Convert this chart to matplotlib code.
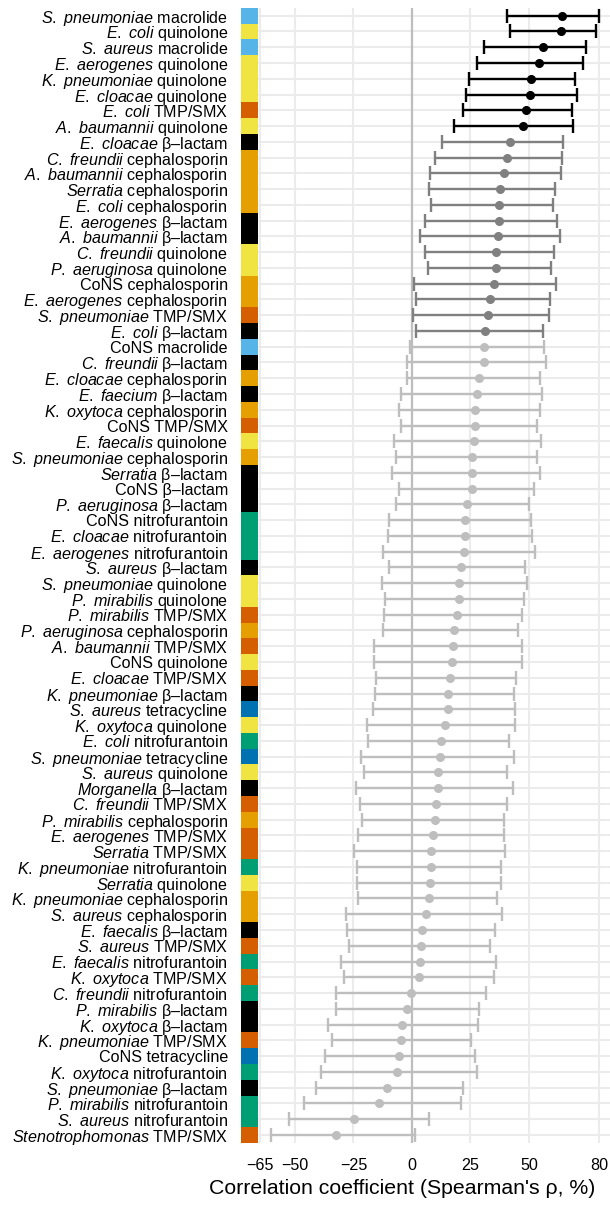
import numpy as np
import matplotlib as mpl
import matplotlib.pyplot as plt

mpl.rcParams['font.family'] = ['Liberation Sans', 'DejaVu Sans']
mpl.rcParams['mathtext.fontset'] = 'custom'
mpl.rcParams['mathtext.it'] = 'Liberation Sans:italic'
mpl.rcParams['mathtext.rm'] = 'Liberation Sans'

# organism / drug class of every row, top to bottom
species = ["S. pneumoniae", "E. coli", "S. aureus", "E. aerogenes", "K. pneumoniae", "E. cloacae",
           "E. coli", "A. baumannii", "E. cloacae", "C. freundii", "A. baumannii", "Serratia",
           "E. coli", "E. aerogenes", "A. baumannii", "C. freundii", "P. aeruginosa", "CoNS",
           "E. aerogenes", "S. pneumoniae", "E. coli", "CoNS", "C. freundii", "E. cloacae",
           "E. faecium", "K. oxytoca", "CoNS", "E. faecalis", "S. pneumoniae", "Serratia",
           "CoNS", "P. aeruginosa", "CoNS", "E. cloacae", "E. aerogenes", "S. aureus",
           "S. pneumoniae", "P. mirabilis", "P. mirabilis", "P. aeruginosa", "A. baumannii", "CoNS",
           "E. cloacae", "K. pneumoniae", "S. aureus", "K. oxytoca", "E. coli", "S. pneumoniae",
           "S. aureus", "Morganella", "C. freundii", "P. mirabilis", "E. aerogenes", "Serratia",
           "K. pneumoniae", "Serratia", "K. pneumoniae", "S. aureus", "E. faecalis", "S. aureus",
           "E. faecalis", "K. oxytoca", "C. freundii", "P. mirabilis", "K. oxytoca", "K. pneumoniae",
           "CoNS", "K. oxytoca", "S. pneumoniae", "P. mirabilis", "S. aureus", "Stenotrophomonas"]
drugs = ["macrolide", "quinolone", "macrolide", "quinolone", "quinolone", "quinolone",
         "TMP/SMX", "quinolone", "β-lactam", "cephalosporin", "cephalosporin", "cephalosporin",
         "cephalosporin", "β-lactam", "β-lactam", "quinolone", "quinolone", "cephalosporin",
         "cephalosporin", "TMP/SMX", "β-lactam", "macrolide", "β-lactam", "cephalosporin",
         "β-lactam", "cephalosporin", "TMP/SMX", "quinolone", "cephalosporin", "β-lactam",
         "β-lactam", "β-lactam", "nitrofurantoin", "nitrofurantoin", "nitrofurantoin", "β-lactam",
         "quinolone", "quinolone", "TMP/SMX", "cephalosporin", "TMP/SMX", "quinolone",
         "TMP/SMX", "β-lactam", "tetracycline", "quinolone", "nitrofurantoin", "tetracycline",
         "quinolone", "β-lactam", "TMP/SMX", "cephalosporin", "TMP/SMX", "TMP/SMX",
         "nitrofurantoin", "quinolone", "cephalosporin", "cephalosporin", "β-lactam", "TMP/SMX",
         "nitrofurantoin", "TMP/SMX", "nitrofurantoin", "β-lactam", "β-lactam", "TMP/SMX",
         "tetracycline", "nitrofurantoin", "β-lactam", "nitrofurantoin", "nitrofurantoin", "TMP/SMX"]

# Spearman rho (%) with interval
rho = [64.2, 63.6, 56.1, 54.3, 50.7, 50.4, 48.6, 47.3, 42.1, 40.4, 39.3, 37.6,
       37.2, 37.2, 36.8, 36.0, 35.8, 34.9, 33.2, 32.3, 31.3, 30.6, 30.6, 28.5,
       27.9, 27.1, 26.8, 26.5, 25.8, 25.8, 25.5, 23.5, 22.6, 22.6, 22.4, 20.9,
       20.2, 19.9, 19.4, 17.8, 17.4, 17.2, 16.1, 15.2, 15.2, 14.1, 12.5, 12.1,
       11.1, 11.0, 10.3, 10.0, 8.8, 8.3, 8.0, 7.8, 7.3, 5.8, 4.1, 3.7,
       3.3, 3.0, -0.6, -2.0, -4.3, -4.7, -5.6, -6.3, -10.7, -14.0, -24.9, -32.5]
lower = [40.4, 41.9, 30.8, 27.6, 24.5, 23.3, 21.9, 17.9, 12.7, 10.0, 7.8, 7.4,
         8.3, 5.7, 3.3, 5.4, 6.7, 1.0, 1.6, 0.3, 1.6, -1.0, -2.1, -1.9,
         -4.6, -5.4, -4.6, -7.8, -7.0, -8.4, -5.4, -6.7, -9.8, -10.4, -12.4, -9.8,
         -12.7, -11.3, -12.0, -12.5, -16.1, -16.1, -15.2, -15.7, -16.5, -19.1, -18.7, -21.7,
         -20.5, -23.9, -22.2, -21.2, -23.1, -24.9, -23.6, -23.6, -23.2, -28.3, -27.9, -26.9,
         -30.2, -29.2, -32.6, -32.3, -35.9, -34.2, -37.0, -39.0, -41.0, -46.0, -52.4, -60.0]
upper = [80.0, 78.6, 74.3, 72.9, 69.6, 70.3, 68.5, 68.9, 64.4, 63.9, 63.6, 61.1,
         60.3, 62.0, 63.1, 60.5, 59.4, 61.7, 58.8, 58.5, 56.0, 56.6, 57.4, 54.6,
         55.4, 54.6, 53.4, 55.1, 53.4, 54.6, 52.0, 50.0, 50.9, 51.1, 52.4, 48.3,
         49.3, 47.7, 47.2, 45.2, 47.2, 47.2, 44.4, 43.4, 44.2, 44.2, 41.5, 43.4,
         40.6, 43.2, 40.6, 39.2, 39.2, 39.7, 37.9, 37.9, 36.2, 38.6, 35.3, 33.5,
         35.9, 34.9, 31.6, 28.8, 28.1, 25.4, 27.1, 27.8, 21.8, 20.9, 7.5, 1.4]
# 2 = black, 1 = dark grey, 0 = light grey
level = [2, 2, 2, 2, 2, 2, 2, 2, 1, 1, 1, 1,
         1, 1, 1, 1, 1, 1, 1, 1, 1, 0, 0, 0,
         0, 0, 0, 0, 0, 0, 0, 0, 0, 0, 0, 0,
         0, 0, 0, 0, 0, 0, 0, 0, 0, 0, 0, 0,
         0, 0, 0, 0, 0, 0, 0, 0, 0, 0, 0, 0,
         0, 0, 0, 0, 0, 0, 0, 0, 0, 0, 0, 0]

drug_colors = {"macrolide": "#56B4E9", "quinolone": "#F0E442", "TMP/SMX": "#D55E00",
               "β-lactam": "#000000", "cephalosporin": "#E69F00",
               "nitrofurantoin": "#009E73", "tetracycline": "#0072B2"}
level_colors = {2: "black", 1: "#808080", 0: "#BEBEBE"}


def make_label(sp, dr):
    dr = dr.replace("-", "\u2013")
    if sp == "CoNS":
        return sp + " " + dr
    return r"$\mathit{" + sp.replace(" ", r"\ ") + "}$ " + dr


rho = np.array(rho)
lower = np.array(lower)
upper = np.array(upper)
level = np.array(level)
ypos = np.arange(1, len(rho) + 1)

fig = plt.figure(figsize=(6.1, 12.08), dpi=100)
ax = fig.add_axes([241 / 610, (1208 - 1142.8) / 1208, (610 - 241) / 610, (1142.8 - 7.8) / 1208])

ax.axvline(0, color="#BEBEBE", lw=1.6, zorder=1)

for lv in [0, 1, 2]:
    m = level == lv
    ax.errorbar(rho[m], ypos[m], xerr=[rho[m] - lower[m], upper[m] - rho[m]],
                fmt="o", color=level_colors[lv], ms=5.5, elinewidth=1.7,
                capsize=4.9, capthick=1.7, zorder=2)

# drug class colour strip
ax.barh(ypos, 7.2, left=-73, height=1.0,
        color=[drug_colors[d] for d in drugs], zorder=3)

ax.set_xlim(-73, 84.6)
ax.set_ylim(len(rho) + 0.5, 0.5)
ax.set_xticks([-65, -50, -25, 0, 25, 50, 80])
ax.set_xticklabels(["\u221265", "\u221250", "\u221225", "0", "25", "50", "80"], fontsize=11.6)
ax.set_yticks(ypos)
ax.set_yticklabels([make_label(s, d) for s, d in zip(species, drugs)], fontsize=11.6)
ax.tick_params(length=0)
ax.tick_params(axis="y", pad=9.4)
ax.tick_params(axis="x", pad=11)
ax.grid(color="#EBEBEB", lw=1.5, zorder=0)
ax.set_axisbelow(True)
for s in ax.spines.values():
    s.set_visible(False)

ax.set_xlabel("Correlation coefficient (Spearman's \u03c1, %)", fontsize=15.3, labelpad=7)
ax.xaxis.set_label_coords(0.436, -0.032)

fig.savefig("out.png", dpi=100)
